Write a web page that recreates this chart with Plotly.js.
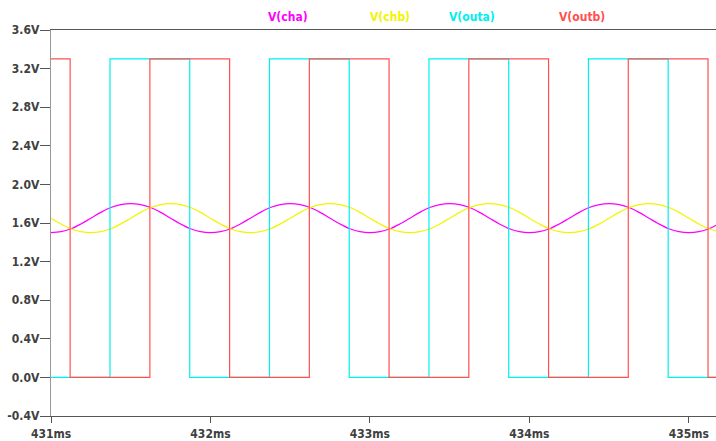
<!DOCTYPE html>
<html>
<head>
<meta charset="utf-8">
<script src="https://cdn.plot.ly/plotly-3.0.1.min.js"></script>
<style>html,body{margin:0;padding:0;background:#fff}#chart{width:716px;height:441px}</style>
</head>
<body>
<div id="chart"></div>
<script>
// Sampled sine channels (V), one sample every 0.0625 ms starting at 431 ms
var sineStart = 431;
var sineStep = 0.0625;
var vCha = [1.50,1.51,1.54,1.59,1.65,1.71,1.76,1.79,1.80,1.79,1.76,1.71,1.65,1.59,1.54,1.51,
            1.50,1.51,1.54,1.59,1.65,1.71,1.76,1.79,1.80,1.79,1.76,1.71,1.65,1.59,1.54,1.51,
            1.50,1.51,1.54,1.59,1.65,1.71,1.76,1.79,1.80,1.79,1.76,1.71,1.65,1.59,1.54,1.51,
            1.50,1.51,1.54,1.59,1.65,1.71,1.76,1.79,1.80,1.79,1.76,1.71,1.65,1.59,1.54,1.51,
            1.50,1.51,1.54,1.59];
var vChb = [1.65,1.59,1.54,1.51,1.50,1.51,1.54,1.59,1.65,1.71,1.76,1.79,1.80,1.79,1.76,1.71,
            1.65,1.59,1.54,1.51,1.50,1.51,1.54,1.59,1.65,1.71,1.76,1.79,1.80,1.79,1.76,1.71,
            1.65,1.59,1.54,1.51,1.50,1.51,1.54,1.59,1.65,1.71,1.76,1.79,1.80,1.79,1.76,1.71,
            1.65,1.59,1.54,1.51,1.50,1.51,1.54,1.59,1.65,1.71,1.76,1.79,1.80,1.79,1.76,1.71,
            1.65,1.59,1.54,1.51];
// Square outputs: edge times (ms) and levels (V)
var outaT = [431.00,431.37,431.87,432.37,432.87,433.37,433.87,434.37,434.87,435.17];
var outaV = [0,3.3,0,3.3,0,3.3,0,3.3,0,0];
var outbT = [431.00,431.12,431.62,432.12,432.62,433.12,433.62,434.12,434.62,435.12,435.17];
var outbV = [3.3,0,3.3,0,3.3,0,3.3,0,3.3,0,0];
var xTicks = [431,432,433,434,435];
var xTickText = ['431ms','432ms','433ms','434ms','435ms'];
var yTicks = [-0.4,0,0.4,0.8,1.2,1.6,2.0,2.4,2.8,3.2,3.6];
var yTickText = ['-0.4V','0.0V','0.4V','0.8V','1.2V','1.6V','2.0V','2.4V','2.8V','3.2V','3.6V'];
var names = ['V(cha)','V(chb)','V(outa)','V(outb)'];
var colors = ['#ff00ff','#f4f400','#00f0f0','#ff5050'];

var sineT = vCha.map(function(_, i){ return sineStart + i*sineStep; });

var traces = [
  {x: sineT, y: vCha, mode:'lines', line:{color:colors[0], width:1.2, shape:'spline'}},
  {x: sineT, y: vChb, mode:'lines', line:{color:colors[1], width:1.2, shape:'spline'}},
  {x: outaT, y: outaV, mode:'lines', line:{color:colors[2], width:1.2, shape:'hv'}},
  {x: outbT, y: outbV, mode:'lines', line:{color:colors[3], width:1.2, shape:'hv'}}
];

var fam = '"DejaVu Sans Condensed", "DejaVu Sans", sans-serif';
var font = {family:fam, size:12, color:'#404040', weight:'bold'};
var legendX = [288, 390, 497, 607];
var annotations = names.map(function(n, i){
  return {text:n, xref:'paper', yref:'paper', x:(legendX[i]-51)/665, y:1, yanchor:'bottom', yshift:4,
          showarrow:false, font:{family:fam, size:12, color:colors[i], weight:'bold'}};
});

var layout = {
  width:716, height:441,
  margin:{l:51, r:0, t:30, b:25},
  paper_bgcolor:'#fff', plot_bgcolor:'#fff',
  showlegend:false,
  font:font,
  xaxis:{range:[431,435.17], tickvals:xTicks, ticktext:xTickText, ticks:'outside', ticklen:6, tickcolor:'#555',
         showline:true, linecolor:'#555', linewidth:1.3, mirror:true, showgrid:false, zeroline:false, tickfont:font},
  yaxis:{range:[-0.4,3.6], tickvals:yTicks, ticktext:yTickText, ticks:'outside', ticklen:10, tickcolor:'#555',
         showline:true, linecolor:'#999', linewidth:1.3, showgrid:false, zeroline:false, tickfont:font,
         ticklabelstandoff:-2},
  annotations:annotations
};

Plotly.newPlot('chart', traces, layout, {displayModeBar:false, staticPlot:true});
</script>
</body>
</html>
